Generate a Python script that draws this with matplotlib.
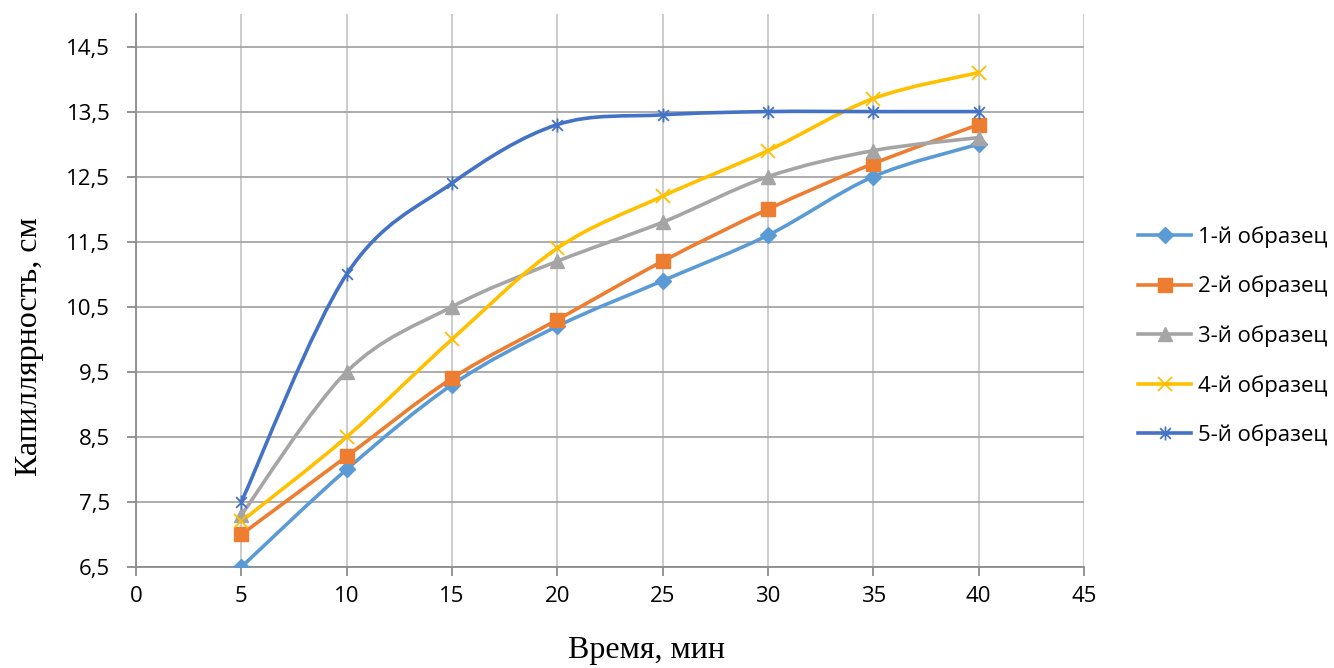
import numpy as np
import matplotlib
matplotlib.use('Agg')
import matplotlib.pyplot as plt
from matplotlib.path import Path
from matplotlib.patches import PathPatch
from matplotlib.lines import Line2D

# data
time_min = [5, 10, 15, 20, 25, 30, 35, 40]
s1 = [6.5, 8.0, 9.3, 10.2, 10.9, 11.6, 12.5, 13.0]
s2 = [7.0, 8.2, 9.4, 10.3, 11.2, 12.0, 12.7, 13.3]
s3 = [7.3, 9.5, 10.5, 11.2, 11.8, 12.5, 12.9, 13.1]
s4 = [7.2, 8.5, 10.0, 11.4, 12.2, 12.9, 13.7, 14.1]
s5 = [7.5, 11.0, 12.4, 13.3, 13.45, 13.5, 13.5, 13.5]
labels = ['1-й образец', '2-й образец', '3-й образец', '4-й образец', '5-й образец']
colors = ['#5B9BD5', '#ED7D31', '#A5A5A5', '#FFC000', '#4472C4']

# excel-like "star" marker: x plus vertical bar
star = Path([(-1, -1), (1, 1), (-1, 1), (1, -1), (0, -1.3), (0, 1.3)],
            [Path.MOVETO, Path.LINETO, Path.MOVETO, Path.LINETO, Path.MOVETO, Path.LINETO])
markers = ['D', 's', '^', 'x', star]
msizes = [8, 10.5, 10, 10, 10]


def smooth_path(x, y):
    """Catmull-Rom style bezier path through points (like excel smoothed line)"""
    pts = np.column_stack([x, y]).astype(float)
    n = len(pts)
    verts = [pts[0]]
    codes = [Path.MOVETO]
    for i in range(n - 1):
        p0 = pts[i - 1] if i > 0 else pts[i]
        p1 = pts[i]
        p2 = pts[i + 1]
        p3 = pts[i + 2] if i + 2 < n else pts[i + 1]
        c1 = p1 + (p2 - p0) / 6.0
        c2 = p2 - (p3 - p1) / 6.0
        verts += [c1, c2, p2]
        codes += [Path.CURVE4] * 3
    return Path(verts, codes)


def marker_style(c, m, ms):
    if m == 'x' or m is star:
        return dict(marker=m, ms=ms, mec=c, mew=1.3)
    return dict(marker=m, ms=ms, mfc=c, mec=c)


fig = plt.figure(figsize=(13.34, 6.68), dpi=100)
ax = fig.add_axes([136 / 1334, 1 - 567 / 668, (1084 - 136) / 1334, (567 - 14) / 668])

tick_font = 'Open Sans'
lw = 2.6
for ys, c, m, ms in zip([s1, s2, s3, s4, s5], colors, markers, msizes):
    ax.add_patch(PathPatch(smooth_path(time_min, ys), fill=False, edgecolor=c, lw=lw,
                           capstyle='round', joinstyle='round', zorder=3))
    ax.plot(time_min, ys, ls='none', zorder=4, **marker_style(c, m, ms))

ax.set_xlim(0, 45)
ax.set_ylim(6.5, 15.0)
ax.set_xticks(np.arange(0, 46, 5))
yt = np.arange(6.5, 14.6, 1.0)
ax.set_yticks(yt)
ax.set_yticklabels([f'{v:.1f}'.replace('.', ',') for v in yt])

ax.grid(axis='y', color='#a6a6a6', lw=1.3)
ax.grid(axis='x', color='#c8c8c8', lw=1.3)
ax.set_axisbelow(True)
for s in ['top', 'right']:
    ax.spines[s].set_visible(False)
for s in ['left', 'bottom']:
    ax.spines[s].set_color('#8c8c8c')
    ax.spines[s].set_linewidth(1.3)
ax.tick_params(axis='both', direction='out', length=6.5, width=1.3, color='#8c8c8c',
               labelsize=16)
for lab in ax.get_xticklabels() + ax.get_yticklabels():
    lab.set_fontfamily(tick_font)
ax.tick_params(axis='x', pad=7)
ax.tick_params(axis='y', pad=12)

ax.set_xlabel('Время, мин', fontfamily='Liberation Serif', fontsize=23)
ax.set_ylabel('Капиллярность, см', fontfamily='Liberation Serif', fontsize=23)
ax.xaxis.set_label_coords(0.538, -0.125)
ax.yaxis.set_label_coords(-0.097, 0.398)

handles = [Line2D([], [], color=c, lw=lw, **marker_style(c, m, ms))
           for c, m, ms in zip(colors, markers, msizes)]
fig.legend(handles, labels, loc='center left', bbox_to_anchor=(0.838, 0.497),
           frameon=False, prop={'family': tick_font, 'size': 16},
           handlelength=2.4, labelspacing=1.25, handletextpad=0.3)

fig.savefig('out.png', dpi=100)
